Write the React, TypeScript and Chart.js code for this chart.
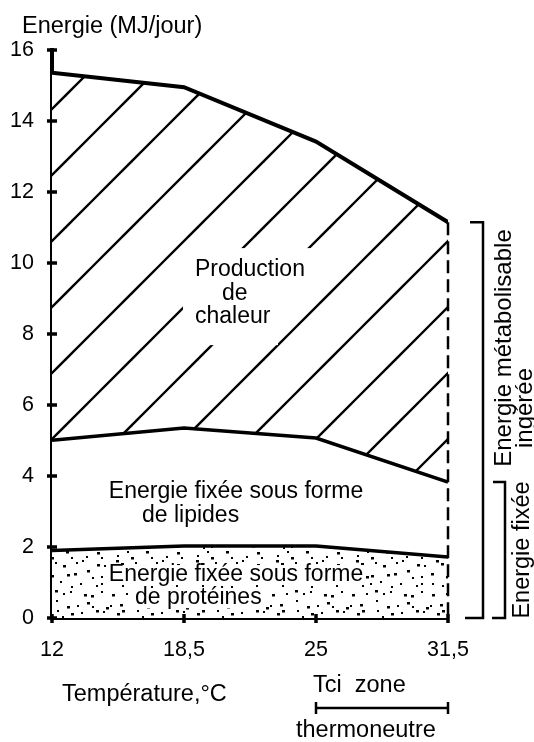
import React, { useEffect, useRef } from 'react';
import { Chart, registerables } from 'chart.js';

Chart.register(...registerables);

// ---- data ----
const temperatures = [12, 18.5, 25, 31.5];
const temperatureLabels = ['12', '18,5', '25', '31,5'];
const proteinEnergy = [1.9, 2.03, 2.03, 1.72];
const lipidTopEnergy = [5.01, 5.35, 5.07, 3.83];
const heatTopEnergy = [15.36, 14.95, 13.42, 11.15];
const energyTicks = [0, 2, 4, 6, 8, 10, 12, 14, 16];

const FONT = '"Liberation Sans", Arial, Helvetica, sans-serif';

function makeHatch(ctx: CanvasRenderingContext2D) {
  const s = 66;
  const off = 29;
  const c = document.createElement('canvas');
  c.width = s;
  c.height = s;
  const g = c.getContext('2d')!;
  g.fillStyle = '#fff';
  g.fillRect(0, 0, s, s);
  g.strokeStyle = '#000';
  g.lineWidth = 2.3;
  for (const k of [-1, 0, 1, 2]) {
    const cc = off + k * s;
    g.beginPath();
    g.moveTo(-10, cc + 10);
    g.lineTo(cc + 10, -10);
    g.stroke();
  }
  return ctx.createPattern(c, 'repeat')!;
}

// texture only (not data): jittered grid of small dots
function makeStipple(ctx: CanvasRenderingContext2D) {
  const cells = 8;
  const cell = 10;
  const s = cells * cell;
  const c = document.createElement('canvas');
  c.width = s;
  c.height = s;
  const g = c.getContext('2d')!;
  g.fillStyle = '#fff';
  g.fillRect(0, 0, s, s);
  g.fillStyle = '#000';
  let a = 0x9e3779b9;
  const rnd = () => {
    a = (a + 0x6d2b79f5) | 0;
    let t = Math.imul(a ^ (a >>> 15), 1 | a);
    t = (t + Math.imul(t ^ (t >>> 7), 61 | t)) ^ t;
    return ((t ^ (t >>> 14)) >>> 0) / 4294967296;
  };
  for (let i = 0; i < cells; i++) {
    for (let j = 0; j < cells; j++) {
      const x = i * cell + Math.floor(rnd() * (cell - 2));
      const y = j * cell + Math.floor(rnd() * (cell - 2));
      const big = rnd() < 0.4;
      g.fillRect(x, y, big ? 3 : 2, big ? 2.5 : 2);
    }
  }
  return ctx.createPattern(c, 'repeat')!;
}

function font(size: number) {
  return `${size}px ${FONT}`;
}

const annotationPlugin = {
  id: 'annotationPlugin',
  afterDatasetsDraw(chart: any) {
    const { ctx, scales } = chart;
    const x = scales.x;
    const y = scales.y;
    const last = temperatures.length - 1;
    const xr = x.getPixelForValue(temperatures[last]);

    ctx.save();
    // dashed right boundary
    ctx.setLineDash([13, 6]);
    ctx.lineWidth = 2.5;
    ctx.strokeStyle = '#000';
    ctx.beginPath();
    ctx.moveTo(xr, y.getPixelForValue(heatTopEnergy[last]));
    ctx.lineTo(xr, y.getPixelForValue(0));
    ctx.stroke();
    ctx.setLineDash([]);

    // gap in the hatching around the heat label
    const hx = x.getPixelForValue(19.04);
    const hy = y.getPixelForValue(9.8);
    ctx.fillStyle = '#fff';
    ctx.fillRect(hx - 12, hy - 22, 135, 36);
    ctx.fillRect(hx - 12, hy + 12, 95, 63);

    const label = (text: string, xv: number, yv: number, pad: number, padY: number) => {
      ctx.font = font(23);
      const px = x.getPixelForValue(xv);
      const py = y.getPixelForValue(yv);
      const w = ctx.measureText(text).width;
      if (pad >= 0) {
        ctx.fillStyle = '#fff';
        ctx.fillRect(px - pad, py - 12 - padY, w + 2 * pad, 24 + 2 * padY);
      }
      ctx.fillStyle = '#000';
      ctx.textAlign = 'left';
      ctx.textBaseline = 'middle';
      ctx.fillText(text, px, py);
    };

    // heat production
    label('Production', 19.04, 9.8, -1, 0);
    label('de', 20.37, 9.15, -1, 0);
    label('chaleur', 19.04, 8.48, -1, 0);
    // lipids
    label('Energie fixée sous forme', 14.8, 3.55, -1, 0);
    label('de lipides', 16.43, 2.87, -1, 0);
    // proteins
    label('Energie fixée sous forme', 14.8, 1.21, 2, -2);
    label('de protéines', 16.09, 0.56, 2, -2);
    ctx.restore();
  },
  afterDraw(chart: any) {
    const { ctx, scales } = chart;
    const x = scales.x;
    const y = scales.y;
    const last = temperatures.length - 1;
    ctx.save();
    ctx.fillStyle = '#000';
    ctx.strokeStyle = '#000';

    // tick marks crossing the axes
    const ax = x.left;
    const ay = y.bottom;
    for (const v of energyTicks) {
      const py = y.getPixelForValue(v);
      ctx.fillRect(ax - 5, py - 1.75, 10, 3.5);
    }
    for (const v of temperatures) {
      const px = x.getPixelForValue(v);
      ctx.fillRect(px - 1.75, ay - 4, 3.5, 9);
    }

    ctx.font = font(23.5);
    ctx.textAlign = 'left';
    ctx.textBaseline = 'alphabetic';
    ctx.fillText('Energie (MJ/jour)', 22, 33);

    ctx.textBaseline = 'middle';
    ctx.fillText('Température,°C', 62, 695);

    const x25 = x.getPixelForValue(temperatures[2]);
    const x315 = x.getPixelForValue(temperatures[last]);
    ctx.fillText('Tci  zone', x25 - 3, 686);
    ctx.lineWidth = 2.5;
    ctx.beginPath();
    ctx.moveTo(x25, 708);
    ctx.lineTo(x315, 708);
    ctx.moveTo(x25, 702);
    ctx.lineTo(x25, 714);
    ctx.moveTo(x315, 702);
    ctx.lineTo(x315, 714);
    ctx.stroke();
    ctx.fillText('thermoneutre', 296, 731);

    // right brackets
    const y0 = y.getPixelForValue(0);
    const yTop1 = y.getPixelForValue(heatTopEnergy[last]);
    const yTop2 = y.getPixelForValue(lipidTopEnergy[last]);
    ctx.lineWidth = 2.5;
    ctx.beginPath();
    ctx.moveTo(470, yTop1);
    ctx.lineTo(483, yTop1);
    ctx.lineTo(483, y0);
    ctx.lineTo(465, y0);
    ctx.moveTo(493, yTop2);
    ctx.lineTo(505, yTop2);
    ctx.lineTo(505, y0);
    ctx.lineTo(492, y0);
    ctx.stroke();

    const vText = (text: string, cx: number, cy: number, size: number) => {
      ctx.save();
      ctx.translate(cx, cy);
      ctx.rotate(-Math.PI / 2);
      ctx.font = font(size);
      ctx.textAlign = 'center';
      ctx.textBaseline = 'middle';
      ctx.fillText(text, 0, 0);
      ctx.restore();
    };
    vText('Energie métabolisable', 504, 348, 24);
    vText('ingérée', 525, 408, 24);
    vText('Energie fixée', 523, 550, 23.5);
    ctx.restore();
  },
};

export default function App() {
  const ref = useRef<HTMLCanvasElement | null>(null);
  useEffect(() => {
    const canvas = ref.current!;
    const ctx = canvas.getContext('2d')!;
    const hatch = makeHatch(ctx);
    const stipple = makeStipple(ctx);
    const pts = (vals: number[]) => temperatures.map((t, i) => ({ x: t, y: vals[i] }));
    const chart = new Chart(canvas, {
      type: 'line',
      data: {
        datasets: [
          {
            label: 'Protéines',
            data: pts(proteinEnergy),
            borderColor: '#000',
            borderWidth: 3.5,
            backgroundColor: stipple,
            fill: 'origin',
            pointRadius: 0,
            tension: 0,
          },
          {
            label: 'Lipides',
            data: pts(lipidTopEnergy),
            borderColor: '#000',
            borderWidth: 3.5,
            backgroundColor: '#fff',
            fill: '-1',
            pointRadius: 0,
            tension: 0,
          },
          {
            label: 'Production de chaleur',
            data: pts(heatTopEnergy),
            borderColor: '#000',
            borderWidth: 4,
            backgroundColor: hatch,
            fill: '-1',
            pointRadius: 0,
            tension: 0,
          },
        ],
      },
      options: {
        responsive: false,
        animation: false,
        layout: { padding: { top: 50, right: 86, left: 0, bottom: 0 } },
        plugins: {
          legend: { display: false },
          tooltip: { enabled: false },
          title: { display: false },
        },
        scales: {
          x: {
            type: 'linear',
            min: temperatures[0],
            max: temperatures[temperatures.length - 1],
            afterBuildTicks: (s: any) => {
              s.ticks = temperatures.map((v) => ({ value: v }));
            },
            afterFit: (s: any) => {
              s.height = 124;
            },
            border: { display: true, color: '#000', width: 4 },
            grid: {
              drawOnChartArea: false,
              drawTicks: false,
              color: '#000',
            },
            ticks: {
              color: '#000',
              font: { family: FONT, size: 21.5 },
              padding: 19,
              maxRotation: 0,
              autoSkip: false,
              callback: (v: any) => {
                const i = temperatures.indexOf(Number(v));
                return i >= 0 ? temperatureLabels[i] : '';
              },
            },
          },
          y: {
            type: 'linear',
            min: energyTicks[0],
            max: energyTicks[energyTicks.length - 1],
            afterBuildTicks: (s: any) => {
              s.ticks = energyTicks.map((v) => ({ value: v }));
            },
            afterFit: (s: any) => {
              s.width = 52;
            },
            border: { display: true, color: '#000', width: 4 },
            grid: {
              drawOnChartArea: false,
              drawTicks: false,
              color: '#000',
            },
            ticks: {
              color: '#000',
              font: { family: FONT, size: 21.5 },
              padding: 18,
              autoSkip: false,
              callback: (v: any) => String(v),
            },
          },
        },
      },
      plugins: [annotationPlugin],
    });
    return () => chart.destroy();
  }, []);

  return (
    <div style={{ position: 'absolute', left: 0, top: 0, width: 534, height: 742, background: '#fff' }}>
      <canvas ref={ref} width={534} height={742} style={{ display: 'block' }} />
    </div>
  );
}
